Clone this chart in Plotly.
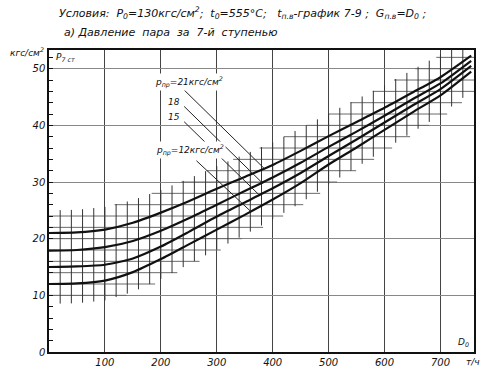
import numpy as np
import plotly.graph_objects as go

# Flow D0, t/h
flow = [0, 50, 100, 150, 200, 250, 300, 350, 400, 450, 500, 550, 600, 650, 700, 755]
# Pressure behind stage 7 for condenser-side pressure p_pr (kgf/cm2)
p21 = [21.0, 21.1, 21.6, 22.8, 24.6, 26.6, 28.8, 30.9, 33.0, 35.5, 38.1, 40.6, 43.1, 45.8, 48.5, 52.3]
p18 = [17.9, 18.0, 18.5, 19.6, 21.4, 23.6, 26.0, 28.4, 30.8, 33.4, 36.2, 38.9, 41.7, 44.6, 47.4, 51.4]
p15 = [15.0, 15.1, 15.4, 16.5, 18.6, 21.2, 23.9, 26.4, 28.9, 31.6, 34.6, 37.5, 40.5, 43.5, 46.4, 50.5]
p12 = [12.0, 12.1, 12.6, 14.1, 16.4, 19.0, 21.6, 24.2, 26.9, 29.8, 33.1, 36.1, 39.2, 42.3, 45.3, 49.5]
curves = {"21": p21, "18": p18, "15": p15, "12": p12}

x_ticks = [100, 200, 300, 400, 500, 600, 700]
y_ticks = [0, 10, 20, 30, 40, 50]
X_MAX, Y_MAX = 760, 53.3

FONT = "DejaVu Sans"
fig = go.Figure()

# ---- hatch band (fine grid around the curves), derived from the curves ----
fx = np.linspace(0, 755, 400)
hi = np.interp(fx, flow, p21) + 4.0
lo = np.interp(fx, flow, p12) - 3.5
hx, hy = [], []
for yv in range(2, 54, 2):
    inside = (lo <= yv) & (hi >= yv)
    if inside.any():
        xs = fx[inside]
        hx += [float(xs.min()), float(min(xs.max() + 10, X_MAX)), None]
        hy += [float(yv), float(yv), None]
fig.add_trace(go.Scatter(x=hx, y=hy, mode="lines", line=dict(color="#6a6a6a", width=1),
                         hoverinfo="skip", showlegend=False))
vx, vy = [], []
for xv in range(20, 760, 20):
    h = float(np.interp(xv, flow, p21)) + 4.0
    l = float(np.interp(xv, flow, p12)) - 3.5
    vx += [float(xv), float(xv), None]
    vy += [l, min(h, Y_MAX), None]
fig.add_trace(go.Scatter(x=vx, y=vy, mode="lines", line=dict(color="#333333", width=1),
                         hoverinfo="skip", showlegend=False))

# ---- curves ----
for name, ys in curves.items():
    fig.add_trace(go.Scatter(x=flow, y=ys, mode="lines",
                             line=dict(color="#111111", width=2.2, shape="spline", smoothing=0.6),
                             name=name, showlegend=False))

# ---- labels with leader lines ----
tfont = dict(family=FONT, size=9, color="#111", style="italic")
bigfont = dict(family=FONT, size=11, color="#111", style="italic")
labels = [
    ("<i>p</i><sub>пр</sub>=21кгс/см<sup>2</sup>", 250, 47.6, 239, 46.5, p21, 385),
    ("18", 223, 44.1, 239, 43.6, p18, 381),
    ("15", 223, 41.4, 239, 40.9, p15, 376),
    ("<i>p</i><sub>пр</sub>=12кгс/см<sup>2</sup>", 252, 35.7, 261, 34.0, p12, 361),
]
for txt, tx, ty, sx, sy, cv, ex in labels:
    ey = float(np.interp(ex, flow, cv))
    fig.add_annotation(x=ex, y=ey, ax=sx, ay=sy, axref="x", ayref="y", xref="x", yref="y",
                       text="", showarrow=True, arrowhead=0, arrowwidth=1, arrowcolor="#222")
for txt, tx, ty, sx, sy, cv, ex in labels:
    fig.add_annotation(x=tx, y=ty, text=txt, showarrow=False, font=tfont, xref="x", yref="y",
                       bgcolor="white" if "пр" in txt else None)

# axis annotations
fig.add_annotation(x=0.0, y=1.0, xref="paper", yref="paper", xanchor="right", yanchor="middle",
                   xshift=-3, yshift=-2, text="кгс/см<sup>2</sup>", showarrow=False, font=tfont)
fig.add_annotation(x=0.0, y=1.0, xref="paper", yref="paper", xanchor="left", yanchor="middle",
                   xshift=5, yshift=-7, text="<i>P</i><sub>7 ст</sub>", showarrow=False, font=tfont)
fig.add_annotation(x=1.0, y=0.0, xref="paper", yref="paper", xanchor="right", yanchor="middle",
                   xshift=-3, yshift=10, text="<i>D</i><sub>0</sub>", showarrow=False, font=tfont)
fig.add_annotation(x=1.0, y=0.0, xref="paper", yref="paper", xanchor="right", yanchor="middle",
                   xshift=8, yshift=-10, text="т/ч", showarrow=False, font=tfont)
# titles
fig.add_annotation(xref="paper", yref="paper", x=0.019, y=1.0, yshift=37, xanchor="left", yanchor="middle",
                   text="Условия:  <i>P</i><sub>0</sub>=130кгс/см<sup>2</sup>;  t<sub>0</sub>=555°C;   t<sub>п.в</sub>-график 7-9 ;  G<sub>п.в</sub>=D<sub>0</sub> ;",
                   showarrow=False, font=bigfont)
fig.add_annotation(xref="paper", yref="paper", x=0.031, y=1.0, yshift=18, xanchor="left", yanchor="middle",
                   text="а) Давление  пара  за  7-й  ступенью", showarrow=False, font=bigfont)

fig.update_layout(
    width=486, height=378,
    margin=dict(l=49, r=10, t=50, b=24),
    paper_bgcolor="white", plot_bgcolor="white",
    font=dict(family=FONT, size=10, color="#111", style="italic"),
    xaxis=dict(range=[0, X_MAX], tickvals=x_ticks, ticks="", showgrid=True, gridcolor="#444", gridwidth=1,
               zeroline=False, showline=True, linecolor="#111", linewidth=1.5, mirror=True,
               tickfont=dict(family=FONT, size=10, style="italic")),
    yaxis=dict(range=[0, Y_MAX], tickvals=y_ticks, ticks="", showgrid=True, gridcolor="#888", gridwidth=1,
               zeroline=False, showline=True, linecolor="#111", linewidth=1.5, mirror=True,
               minor=dict(dtick=2, ticks="inside", ticklen=4, tickcolor="#111", showgrid=False),
               tickfont=dict(family=FONT, size=10, style="italic")),
)
fig.write_html("out.html", config={"displayModeBar": False},
               post_script="document.body.style.margin='0';document.body.style.overflow='hidden';")
